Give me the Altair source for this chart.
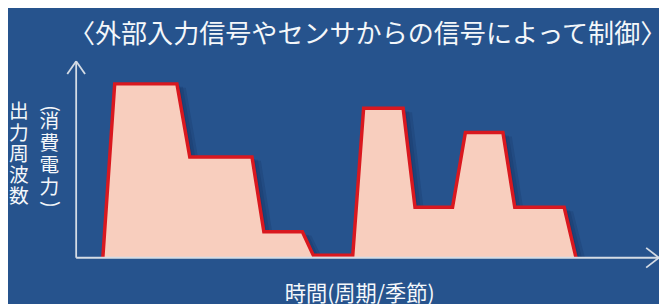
import altair as alt
import pandas as pd

# ---- data ----
time_pts = [5.4, 7.8, 20.4, 23.0, 35.6, 38.0, 45.8, 48.0, 56.0, 58.2,
            66.2, 68.6, 76.2, 78.8, 86.4, 88.8, 98.8, 101.2]
output_pts = [0, 100, 100, 58, 58, 15, 15, 1.5, 1.5, 86,
              86, 29, 29, 72, 72, 29, 29, 0]

title_text = "〈外部入力信号やセンサからの信号によって制御〉"
y_label_main = ["出", "力", "周", "波", "数"]
y_label_sub = ["消", "費", "電", "力"]
x_label = "時間(周期/季節)"

X_MAX = 118.0
Y_MAX = 113.07

FONT = "Noto Sans CJK JP"
BG = "#26538D"
FILL = "#F8CEBE"
RED = "#D9181F"
AXIS = "#D5DCE5"
TEXT = "#F4F7FA"

df = pd.DataFrame({"t": time_pts, "v": output_pts})

xs = alt.Scale(domain=[0, X_MAX], nice=False, zero=False)
ys = alt.Scale(domain=[0, Y_MAX], nice=False, zero=False)

base = alt.Chart(df)

layers = []
# soft drop shadow
for dx, dy in [(3, 2), (6, 3), (9, 4)]:
    sh = base.transform_calculate(
        ts=f"datum.t + {dx * 0.2}",
        vs=f"max(datum.v - {dy / 1.76}, 0)",
        zero="0",
    ).mark_area(color="#081a3a", opacity=0.13).encode(
        x=alt.X("ts:Q", scale=xs, axis=None),
        y=alt.Y("vs:Q", scale=ys, axis=None),
        y2=alt.Y2("zero:Q"),
    )
    layers.append(sh)

area = base.mark_area(color=FILL, opacity=1).encode(
    x=alt.X("t:Q", scale=xs, axis=None),
    y=alt.Y("v:Q", scale=ys, axis=None),
)
line = base.mark_line(color=RED, strokeWidth=3.5, strokeJoin="miter").encode(
    x=alt.X("t:Q", scale=xs, axis=None),
    y=alt.Y("v:Q", scale=ys, axis=None),
)
layers += [area, line]

# axes with arrow heads
axes_df = pd.DataFrame({
    "x":  [0, 0, 0, 0, X_MAX, X_MAX],
    "y":  [0, 0, Y_MAX, Y_MAX, 0, 0],
    "x2": [0, X_MAX, -1.8, 1.8, X_MAX - 2.6, X_MAX - 2.6],
    "y2": [Y_MAX, 0, Y_MAX - 7.4, Y_MAX - 7.4, 5.7, -5.7],
})
axes = alt.Chart(axes_df).mark_rule(color=AXIS, strokeWidth=1.8).encode(
    x=alt.X("x:Q", scale=xs, axis=None),
    y=alt.Y("y:Q", scale=ys, axis=None),
    x2="x2:Q",
    y2="y2:Q",
)
layers.append(axes)

# texts
title = alt.Chart(pd.DataFrame({"s": [title_text]})).mark_text(
    font=FONT, fontSize=26.4, color=TEXT, align="center", baseline="middle"
).encode(x=alt.value(295), y=alt.value(-26), text="s:N")

xlab = alt.Chart(pd.DataFrame({"s": [x_label]})).mark_text(
    font=FONT, fontSize=21.5, color=TEXT, align="center", baseline="middle"
).encode(x=alt.value(287), y=alt.value(237), text="s:N")

ymain = alt.Chart(pd.DataFrame({"s": ["\n".join(y_label_main)]})).mark_text(
    font=FONT, fontSize=20, color=TEXT, align="center", baseline="middle",
    lineBreak="\n", lineHeight=21.5
).encode(x=alt.value(-58), y=alt.value(52), text="s:N")

ysub = alt.Chart(pd.DataFrame({"s": ["\n".join(y_label_sub)]})).mark_text(
    font=FONT, fontSize=20, color=TEXT, align="center", baseline="middle",
    lineBreak="\n", lineHeight=22
).encode(x=alt.value(-27), y=alt.value(62), text="s:N")

popen = alt.Chart(pd.DataFrame({"s": ["("]})).mark_text(
    font=FONT, fontSize=20, color=TEXT, align="center", baseline="middle", angle=90
).encode(x=alt.value(-27), y=alt.value(48), text="s:N")

pclose = alt.Chart(pd.DataFrame({"s": [")"]})).mark_text(
    font=FONT, fontSize=20, color=TEXT, align="center", baseline="middle", angle=90
).encode(x=alt.value(-27), y=alt.value(145), text="s:N")

layers += [title, xlab, ymain, ysub, popen, pclose]

chart = alt.layer(*layers).properties(
    width=590,
    height=199,
    padding={"left": 69, "top": 52, "right": 0, "bottom": 45},
    autosize="none",
    background=BG,
).configure_view(stroke=None)

chart.save("out.html", embed_options={"renderer": "svg", "actions": False})
